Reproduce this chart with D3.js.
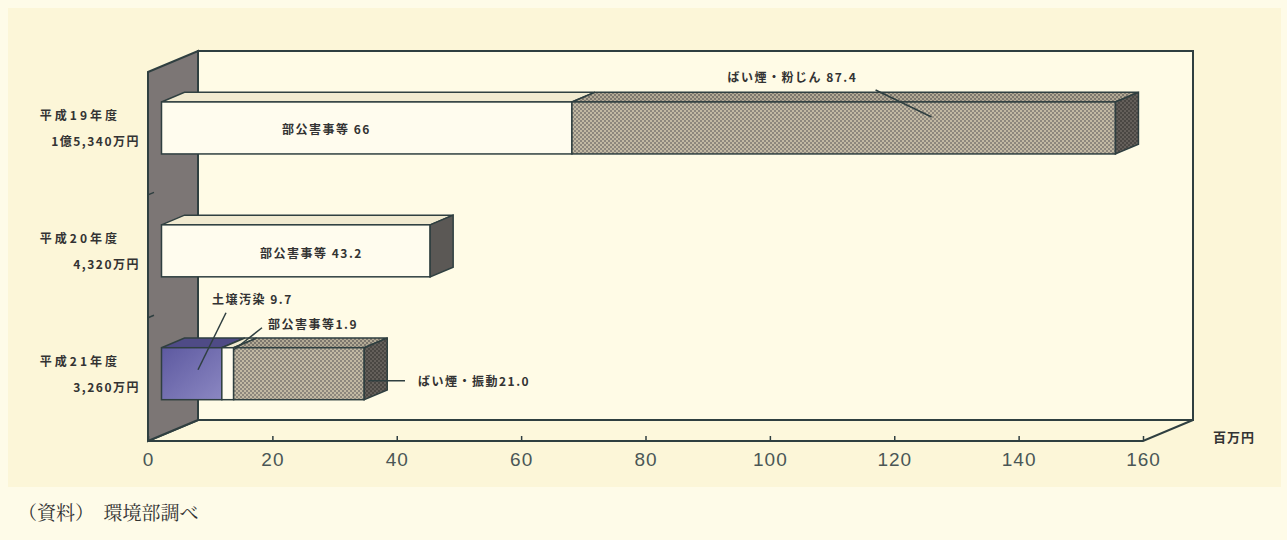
<!DOCTYPE html>
<html>
<head>
<meta charset="utf-8">
<script src="https://cdn.jsdelivr.net/npm/d3@7"></script>
<style>
  body { margin: 0; background: #fefbe8; }
  svg { display: block; }
  text { font-family: "Noto Sans CJK JP", "Noto Sans", sans-serif; }
</style>
</head>
<body>
<div id="chart"></div>
<script>
// 1: DATA
const years = ["平成19年度", "平成20年度", "平成21年度"];
const totals = ["1億5,340万円", "4,320万円", "3,260万円"];
const soil = [0, 0, 9.7];        // 土壌汚染
const other = [66, 43.2, 1.9];   // 部公害事等
const smoke = [87.4, 0, 21.0];   // ばい煙・粉じん / ばい煙・振動
const xTicks = [0, 20, 40, 60, 80, 100, 120, 140, 160];

const rows = years.map((y, i) => ({ year: y, soil: soil[i], other: other[i], smoke: smoke[i] }));
const keys = ["soil", "other", "smoke"];
const stacked = d3.stack().keys(keys)(rows);

// 2: LAYOUT
const W = 1287, H = 540;
const DX = 50, DY = -21;           // depth of the 3d box
const f0 = 0.27, f1 = 0.73;        // bar depth inside the box
const ox = DX * f0, oy = DY * f0;
const sdx = DX * (f1 - f0), sdy = DY * (f1 - f0);

const svg = d3.select("#chart").append("svg")
    .attr("width", W).attr("height", H);

const x = d3.scaleLinear().domain([0, 160]).range([148, 1143]);
const y = d3.scaleBand().domain(years).range([72, 441])
    .paddingInner(0.577).paddingOuter(0.29);

const line = d3.line();
const poly = pts => line(pts) + "Z";

// patterns and gradients
const defs = svg.append("defs");
function checker(id, bg, fg) {
    const p = defs.append("pattern").attr("id", id)
        .attr("width", 4).attr("height", 4).attr("patternUnits", "userSpaceOnUse");
    p.append("rect").attr("width", 4).attr("height", 4).attr("fill", bg);
    p.append("rect").attr("width", 2).attr("height", 2).attr("fill", fg);
    p.append("rect").attr("x", 2).attr("y", 2).attr("width", 2).attr("height", 2).attr("fill", fg);
}
checker("hatchFront", "#c2b9a3", "#8d877d");
checker("hatchTop", "#b3aa95", "#7d776e");
checker("hatchSide", "#645f5a", "#4a4743");
const grad = defs.append("linearGradient").attr("id", "blueFront")
    .attr("x1", 0).attr("y1", 0).attr("x2", 1).attr("y2", 1);
grad.append("stop").attr("offset", "0%").attr("stop-color", "#5d59a0");
grad.append("stop").attr("offset", "100%").attr("stop-color", "#8b87c2");

// panel background
svg.append("rect").attr("x", 8).attr("y", 8).attr("width", W - 14).attr("height", 479)
    .attr("fill", "#fcf6d8");

const ink = "#2f3f40";

// 3: BOX (back wall, floor, left wall)
const xl = x(0), xr = x(160), yt = y.range()[0], yb = y.range()[1];
svg.append("rect")
    .attr("x", xl + DX).attr("y", yt + DY)
    .attr("width", xr - xl).attr("height", yb - yt)
    .attr("fill", "#fffbe6").attr("stroke", ink).attr("stroke-width", 2);
svg.append("path")
    .attr("d", poly([[xl, yb], [xl + DX, yb + DY], [xr + DX, yb + DY], [xr, yb]]))
    .attr("fill", "#fdf8dc").attr("stroke", ink).attr("stroke-width", 2);
svg.append("path")
    .attr("d", poly([[xl, yt], [xl + DX, yt + DY], [xl + DX, yb + DY], [xl, yb]]))
    .attr("fill", "#7c7675").attr("stroke", ink).attr("stroke-width", 2);

// category ticks on the wall
[1, 2].forEach(i => {
    const ty = yt + y.step() * i;
    svg.append("line").attr("x1", xl).attr("y1", ty).attr("x2", xl + 6).attr("y2", ty - 2.5)
        .attr("stroke", ink).attr("stroke-width", 1.5);
});

// 4: BARS
const style = {
    soil:  { front: "url(#blueFront)", top: "#4f4b86", side: "#3d3a6b" },
    other: { front: "#fffcee", top: "#f1ead0", side: "#5b5855" },
    smoke: { front: "url(#hatchFront)", top: "url(#hatchTop)", side: "url(#hatchSide)" }
};

const gBars = svg.append("g");
rows.forEach((r, i) => {
    const segs = stacked.map(s => ({ key: s.key, v0: s[i][0], v1: s[i][1] }))
        .filter(d => d.v1 > d.v0);
    const yT = y(r.year) + oy, yB = yT + y.bandwidth();
    segs.forEach((d, j) => {
        const x0 = x(d.v0) + ox, x1 = x(d.v1) + ox;
        const st = style[d.key];
        gBars.append("path")
            .attr("d", poly([[x0, yT], [x1, yT], [x1 + sdx, yT + sdy], [x0 + sdx, yT + sdy]]))
            .attr("fill", st.top).attr("stroke", ink).attr("stroke-width", 1.5);
        gBars.append("rect")
            .attr("x", x0).attr("y", yT).attr("width", x1 - x0).attr("height", yB - yT)
            .attr("fill", st.front).attr("stroke", ink).attr("stroke-width", 1.5);
        if (j === segs.length - 1) {
            gBars.append("path")
                .attr("d", poly([[x1, yT], [x1 + sdx, yT + sdy], [x1 + sdx, yB + sdy], [x1, yB]]))
                .attr("fill", st.side).attr("stroke", ink).attr("stroke-width", 1.5);
        }
    });
});

// 5: X AXIS
const xAxis = svg.append("g")
    .attr("transform", `translate(0,${yb})`)
    .call(d3.axisBottom(x).tickValues(xTicks).tickSize(-5).tickPadding(12).tickFormat(d3.format("d")));
xAxis.select(".domain").remove();
xAxis.selectAll(".tick line").attr("stroke", ink).attr("stroke-width", 1.5);
xAxis.selectAll(".tick text")
    .attr("fill", "#4a5656")
    .style("font-family", "'Liberation Sans', Arial, sans-serif")
    .style("font-size", "19px")
    .style("letter-spacing", "1px");

svg.append("text").attr("x", 1213).attr("y", 442)
    .attr("font-size", 13).attr("font-weight", "bold").attr("fill", "#333")
    .style("letter-spacing", "1px")
    .text("百万円");

// 6: CATEGORY LABELS
years.forEach((yr, i) => {
    const cy = y(yr) + oy + y.bandwidth() / 2;
    svg.append("text").attr("x", 120).attr("y", cy - 8).attr("text-anchor", "end")
        .attr("font-size", 12).attr("font-weight", "bold").attr("fill", "#333")
        .style("letter-spacing", "3px").text(yr);
    svg.append("text").attr("x", 140).attr("y", cy + 18).attr("text-anchor", "end")
        .attr("font-size", 12).attr("font-weight", "bold").attr("fill", "#333")
        .style("letter-spacing", "1.5px").text(totals[i]);
});

// 7: SEGMENT LABELS
const lab = (tx, ty, t) => svg.append("text").attr("x", tx).attr("y", ty)
    .attr("font-size", 12).attr("font-weight", "bold").attr("fill", "#333")
    .style("letter-spacing", "1.5px").text(t);
const lead = (a, b) => svg.append("line")
    .attr("x1", a[0]).attr("y1", a[1]).attr("x2", b[0]).attr("y2", b[1])
    .attr("stroke", ink).attr("stroke-width", 1.5);

const r0 = y(years[0]) + oy, r1 = y(years[1]) + oy, r2 = y(years[2]) + oy;
lab(x(0) + 134, r0 + 32, "部公害事等 " + other[0]);
lab(x(91) + ox, r0 - 20, "ばい煙・粉じん " + smoke[0].toFixed(1));
lead([x(117), r0 - 12], [x(126), r0 + 15]);

lab(x(0) + 112, r1 + 33, "部公害事等  " + other[1].toFixed(1));

lab(x(0) + 64, r2 - 44, "土壌汚染 " + soil[2].toFixed(1));
lead([x(0) + 78, r2 - 35], [x(0) + 50, r2 + 22]);
lab(x(0) + 120, r2 - 19, "部公害事等" + other[2].toFixed(1));
lead([x(0) + 114, r2 - 20], [x(0) + 86, r2 + 2]);
lab(x(0) + 270, r2 + 38, "ばい煙・振動" + smoke[2].toFixed(1));
lead([x(soil[2] + other[2] + smoke[2]) + ox + 4, r2 + 33], [x(0) + 257, r2 + 33]);

// 8: SOURCE
svg.append("text").attr("x", 18).attr("y", 520)
    .style("font-family", "'Noto Serif CJK JP', 'Noto Sans CJK JP', serif")
    .attr("font-size", 19).attr("fill", "#333")
    .text("（資料）　環境部調べ");
</script>
</body>
</html>
